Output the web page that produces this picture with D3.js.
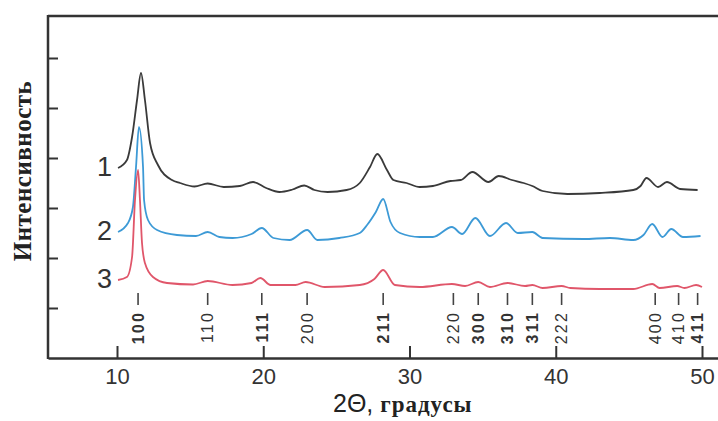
<!DOCTYPE html>
<html><head><meta charset="utf-8">
<script src="https://cdn.jsdelivr.net/npm/d3@7"></script>
<style>
html,body{margin:0;padding:0;background:#fff;}
svg{display:block;}
</style>
</head><body>
<svg id="chart" width="718" height="421"></svg>
<script>
// ---- data (2θ in degrees, intensity in arbitrary units, offset per curve) ----
const curve1 = [[10.07,3.80],[10.68,3.96],[11.03,4.42],[11.37,5.16],[11.64,5.70],[11.91,5.16],[12.26,4.30],[12.80,3.86],[13.76,3.56],[14.31,3.50],[15.3,3.43],[16.2,3.49],[17.3,3.42],[18.4,3.44],[19.3,3.52],[20.2,3.40],[21.1,3.32],[22.0,3.37],[22.8,3.45],[23.5,3.36],[24.4,3.32],[25.7,3.36],[26.6,3.50],[27.3,3.82],[27.8,4.08],[28.46,3.76],[28.9,3.56],[29.8,3.50],[30.7,3.42],[31.6,3.44],[32.8,3.54],[33.5,3.56],[34.3,3.72],[35.4,3.52],[36.1,3.64],[37.0,3.56],[37.8,3.50],[38.4,3.44],[39.1,3.34],[40.8,3.28],[43.0,3.30],[45.3,3.36],[45.8,3.44],[46.2,3.60],[47.0,3.42],[47.6,3.52],[48.5,3.38],[49.7,3.36]];
const curve2 = [[10.07,2.52],[10.75,2.70],[11.09,3.02],[11.30,3.82],[11.50,4.62],[11.78,3.82],[11.85,3.16],[12.12,2.76],[12.74,2.56],[14.10,2.46],[15.4,2.44],[16.2,2.52],[17.0,2.42],[17.9,2.40],[19.2,2.48],[19.9,2.60],[20.7,2.40],[21.8,2.36],[23.0,2.56],[23.7,2.36],[25.2,2.40],[26.6,2.50],[27.1,2.66],[27.7,2.92],[28.2,3.18],[28.7,2.72],[29.35,2.50],[30.7,2.42],[31.6,2.42],[32.9,2.62],[33.6,2.48],[34.5,2.80],[35.5,2.44],[36.6,2.70],[37.4,2.50],[38.4,2.52],[39.1,2.40],[41.9,2.38],[43.7,2.40],[45.3,2.36],[46.0,2.46],[46.6,2.68],[47.3,2.42],[47.9,2.58],[48.7,2.42],[49.9,2.44]];
const curve3 = [[10.07,1.56],[10.68,1.62],[11.03,2.02],[11.23,3.16],[11.44,3.76],[11.57,3.16],[11.71,2.30],[11.91,1.90],[12.46,1.62],[13.42,1.50],[15.2,1.47],[16.2,1.54],[17.9,1.46],[19.2,1.50],[19.8,1.60],[20.5,1.46],[22.2,1.46],[22.9,1.52],[24.2,1.42],[26.6,1.46],[27.6,1.58],[28.2,1.76],[29.0,1.46],[30.7,1.42],[32.9,1.48],[33.8,1.44],[34.7,1.52],[35.5,1.42],[36.7,1.50],[37.9,1.44],[38.4,1.46],[39.1,1.40],[40.4,1.44],[41.0,1.40],[43.0,1.38],[45.3,1.38],[46.6,1.48],[47.1,1.40],[48.3,1.44],[48.8,1.40],[49.6,1.46],[50.0,1.42]];
const curveNames = ["1","2","3"];
const curveColors = ["#3a3a3a","#3d9ad6","#e0566a"];
const xTicks = [10,20,30,40,50];
const yTicks = [1,2,3,4,5,6];
const hklLabels = ["100","110","111","200","211","220","300","310","311","222","400","410","411"];
const hklPos    = [11.44,16.2,19.9,23.0,28.2,33.0,34.7,36.7,38.4,40.4,46.8,48.4,49.7];
const hklBold   = [true,false,true,false,true,false,true,true,true,false,false,false,true];
const xTitleA = "2Θ, ";
const xTitleB = "градусы";
const yTitle = "Интенсивность";

// ---- layout ----
const L = 48, R = 718, T = 16, B = 358;
const svg = d3.select("#chart");
const x = d3.scaleLinear().domain([5.282, 51.094]).range([L, R]);
const y = d3.scaleLinear().domain([0, 6.84]).range([B, T]);
const axisColor = "#333";

// curves
const line = d3.line().x(d => x(d[0])).y(d => y(d[1])).curve(d3.curveMonotoneX);
[curve1, curve2, curve3].forEach((c, i) => {
  svg.append("path").datum(c).attr("d", line)
    .attr("fill", "none").attr("stroke", curveColors[i])
    .attr("stroke-width", 1.8).attr("stroke-linejoin", "round");
});

// curve labels
[curve1, curve2, curve3].forEach((c, i) => {
  svg.append("text").attr("x", x(c[0][0]) - 6).attr("y", y(c[0][1]) + 8)
    .attr("text-anchor", "end")
    .attr("font-family", "Liberation Sans, Arial, sans-serif")
    .attr("font-size", 27).attr("fill", "#333").text(curveNames[i]);
});

// frame lines
svg.append("line").attr("x1", L).attr("x2", R).attr("y1", T).attr("y2", T)
  .attr("stroke", axisColor).attr("stroke-width", 2.5);
svg.append("line").attr("x1", L).attr("x2", L).attr("y1", T - 1).attr("y2", B + 1)
  .attr("stroke", axisColor).attr("stroke-width", 2.5);

// x axis
const gx = svg.append("g").attr("transform", `translate(0,${B})`)
  .call(d3.axisBottom(x).tickValues(xTicks).tickSizeInner(-12).tickSizeOuter(0).tickPadding(10).tickFormat(d3.format("d")));
gx.select(".domain").attr("stroke", axisColor).attr("stroke-width", 2.5);
gx.selectAll(".tick line").attr("stroke", axisColor).attr("stroke-width", 2);
gx.selectAll(".tick text").attr("font-family", "Liberation Sans, Arial, sans-serif")
  .attr("font-size", 22).attr("fill", "#333");

// y axis (ticks only)
const gy = svg.append("g").attr("transform", `translate(${L},0)`)
  .call(d3.axisLeft(y).tickValues(yTicks).tickSizeInner(-10).tickSizeOuter(0).tickFormat(""));
gy.select(".domain").remove();
gy.selectAll(".tick line").attr("stroke", axisColor).attr("stroke-width", 2);

// hkl markers
const hkl = svg.append("g");
hklLabels.forEach((lab, i) => {
  const px = x(hklPos[i]);
  hkl.append("line").attr("x1", px).attr("x2", px).attr("y1", 293).attr("y2", 305)
    .attr("stroke", "#444").attr("stroke-width", 1.6);
  hkl.append("text").attr("transform", `translate(${px},311) rotate(-90)`)
    .attr("text-anchor", "end").attr("dy", "0.36em")
    .attr("font-family", "Liberation Sans, Arial, sans-serif")
    .attr("font-size", 16).attr("letter-spacing", 2.2)
    .attr("font-weight", hklBold[i] ? "bold" : "normal")
    .attr("fill", "#333").text(lab);
});

// x title
const xt = svg.append("text").attr("x", 333).attr("y", 412).attr("fill", "#222");
xt.append("tspan").attr("font-family", "Liberation Sans, Arial, sans-serif").attr("font-size", 25).text(xTitleA);
xt.append("tspan").attr("font-family", "Liberation Serif, Times New Roman, serif").attr("font-weight", "bold")
  .attr("font-size", 23).attr("letter-spacing", 1).text(xTitleB);

// y title
svg.append("text").attr("transform", "translate(31,171) rotate(-90)")
  .attr("text-anchor", "middle")
  .attr("font-family", "Liberation Serif, Times New Roman, serif").attr("font-weight", "bold")
  .attr("font-size", 25).attr("letter-spacing", 0.5).attr("fill", "#222").text(yTitle);
</script>
</body></html>
